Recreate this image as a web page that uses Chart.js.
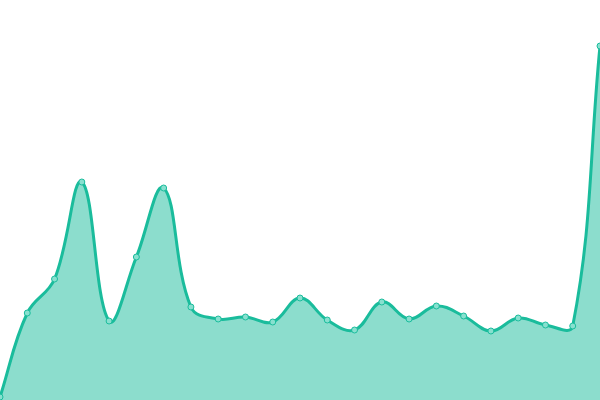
<!DOCTYPE html>
<html>
<head>
<meta charset="utf-8">
<script src="https://cdn.jsdelivr.net/npm/chart.js@4/dist/chart.umd.min.js"></script>
<style>
  html, body { margin: 0; padding: 0; background: #fff; }
  #wrap { width: 600px; height: 400px; }
</style>
</head>
<body>
<div id="wrap"><canvas id="area-chart"></canvas></div>
<script>
'use strict';

const labels = ['1', '2', '3', '4', '5', '6', '7', '8', '9', '10', '11', '12',
  '13', '14', '15', '16', '17', '18', '19', '20', '21', '22', '23'];
const values = [3, 87, 121, 218, 79, 143, 212, 93, 81, 83, 78, 102,
  80, 70, 98, 81, 94, 84, 69, 82, 75, 74, 354];

const ctx = document.querySelector('#area-chart').getContext('2d');

const chart = new Chart(ctx, {
  type: 'line',
  data: {
    labels: labels,
    datasets: [
      {
        data: values,
        fill: 'origin',
        backgroundColor: 'rgba(26, 188, 156, 0.5)',
        borderColor: '#1abc9c',
        borderWidth: 3,
        tension: 0.4,
        pointRadius: 3,
        pointBorderWidth: 1,
        pointBackgroundColor: '#88e0cf',
        pointBorderColor: '#1abc9c',
      }
    ]
  },
  options: {
    responsive: true,
    maintainAspectRatio: false,
    animation: false,
    layout: { padding: 0, autoPadding: false },
    plugins: {
      legend: { display: false },
      tooltip: { enabled: false }
    },
    scales: {
      x: { display: false, offset: false },
      y: { display: false, min: 0, max: 400 }
    }
  }
});
</script>
</body>
</html>
